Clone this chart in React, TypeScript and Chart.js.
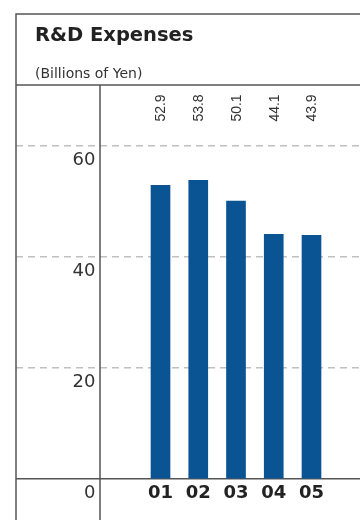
import { useEffect, useRef } from "react";
import { Chart, registerables } from "chart.js";

Chart.register(...registerables);

// Fiscal years and R&D spending (billions of yen)
const years = ["01", "02", "03", "04", "05"];
const rdExpenses = [52.9, 53.8, 50.1, 44.1, 43.9];
const yTickValues = [0, 20, 40, 60];

const BAR_BLUE = "#0a5494";
const FRAME = "#555555";
const GRID = "#c0c0c0";
const FONT = "'DejaVu Sans', sans-serif";

// Box outline, heading divider and the vertical divider beside the value axis
const framePlugin = {
  id: "frame",
  afterDraw(chart: any) {
    const { ctx, width, height, chartArea } = chart;
    ctx.save();
    ctx.strokeStyle = FRAME;
    ctx.lineWidth = 1.5;
    ctx.beginPath();
    ctx.moveTo(16, height);
    ctx.lineTo(16, 14);
    ctx.lineTo(width, 14);
    ctx.moveTo(16, chartArea.top);
    ctx.lineTo(width, chartArea.top);
    ctx.moveTo(chartArea.left, chartArea.top);
    ctx.lineTo(chartArea.left, height);
    ctx.stroke();
    ctx.restore();
  },
};

// Rotated value labels along the top of the plot
const valueLabelPlugin = {
  id: "valueLabels",
  afterDatasetsDraw(chart: any) {
    const { ctx } = chart;
    const meta = chart.getDatasetMeta(0);
    ctx.save();
    ctx.fillStyle = "#333333";
    ctx.font = "14px 'Liberation Sans', Arial, sans-serif";
    ctx.textAlign = "center";
    ctx.textBaseline = "alphabetic";
    meta.data.forEach((bar: any, i: number) => {
      ctx.save();
      ctx.translate(bar.x + 5, 108);
      ctx.rotate(-Math.PI / 2);
      ctx.fillText(rdExpenses[i].toFixed(1), 0, 0);
      ctx.restore();
    });
    ctx.restore();
  },
};

export default function App() {
  const canvasRef = useRef<HTMLCanvasElement | null>(null);

  useEffect(() => {
    const canvas = canvasRef.current;
    if (!canvas) return;
    const isZero = (c: any) => c.tick && c.tick.value === 0;

    const chart = new Chart(canvas, {
      type: "bar",
      data: {
        datasets: [
          {
            data: years.map((_, i) => ({ x: i + 1, y: rdExpenses[i] })),
            backgroundColor: BAR_BLUE,
            borderWidth: 0,
            barThickness: 19,
          },
        ],
      },
      options: {
        responsive: false,
        maintainAspectRatio: false,
        animation: false,
        layout: { padding: { top: 85, left: 16, right: 0, bottom: 0 } },
        plugins: {
          legend: { display: false },
          tooltip: { enabled: false },
          title: { display: false },
        },
        scales: {
          x: {
            type: "linear",
            offset: false,
            min: -0.6026,
            max: 6.2848,
            afterBuildTicks: (scale: any) => {
              scale.ticks = years.map((_, i) => ({ value: i + 1 }));
            },
            afterFit: (scale: any) => {
              scale.height = 41;
            },
            grid: { display: false, offset: false },
            border: { display: false },
            ticks: {
              autoSkip: false,
              maxRotation: 0,
              minRotation: 0,
              padding: -4,
              color: "#222222",
              font: { family: FONT, size: 18, weight: "bold" },
              callback: (v: any) => years[Number(v) - 1] ?? "",
            },
          },
          y: {
            type: "linear",
            min: 0,
            max: 71,
            afterBuildTicks: (scale: any) => {
              scale.ticks = yTickValues.map((v) => ({ value: v }));
            },
            afterFit: (scale: any) => {
              scale.width = 84;
            },
            border: {
              display: false,
              dash: (c: any) => (isZero(c) ? [] : [7, 5]),
            },
            grid: {
              drawTicks: true,
              tickLength: 84,
              lineWidth: 1.5,
              tickWidth: 1.5,
              color: (c: any) => (isZero(c) ? FRAME : GRID),
              tickColor: (c: any) => (isZero(c) ? FRAME : GRID),
              tickBorderDash: (c: any) => (isZero(c) ? [] : [7, 5]),
            },
            ticks: {
              padding: -79.5,
              labelOffset: 14,
              color: "#333333",
              font: { family: FONT, size: 18 },
              callback: (v: any) => String(v),
            },
          },
        },
      },
      plugins: [framePlugin, valueLabelPlugin],
    } as any);

    return () => chart.destroy();
  }, []);

  return (
    <div
      style={{
        position: "fixed",
        left: 0,
        top: 0,
        width: 360,
        height: 520,
        background: "#ffffff",
        overflow: "hidden",
      }}
    >
      <canvas
        ref={canvasRef}
        width={360}
        height={520}
        style={{ position: "absolute", left: 0, top: 0, width: 360, height: 520 }}
      />
      <div
        style={{
          position: "absolute",
          left: 35,
          top: 25,
          fontFamily: FONT,
          fontWeight: "bold",
          fontSize: 19.5,
          lineHeight: "20px",
          color: "#222222",
          whiteSpace: "nowrap",
        }}
      >
        R&amp;D Expenses
      </div>
      <div
        style={{
          position: "absolute",
          left: 35,
          top: 64.5,
          fontFamily: FONT,
          fontSize: 14,
          lineHeight: "16px",
          color: "#333333",
          whiteSpace: "nowrap",
        }}
      >
        (Billions of Yen)
      </div>
    </div>
  );
}
